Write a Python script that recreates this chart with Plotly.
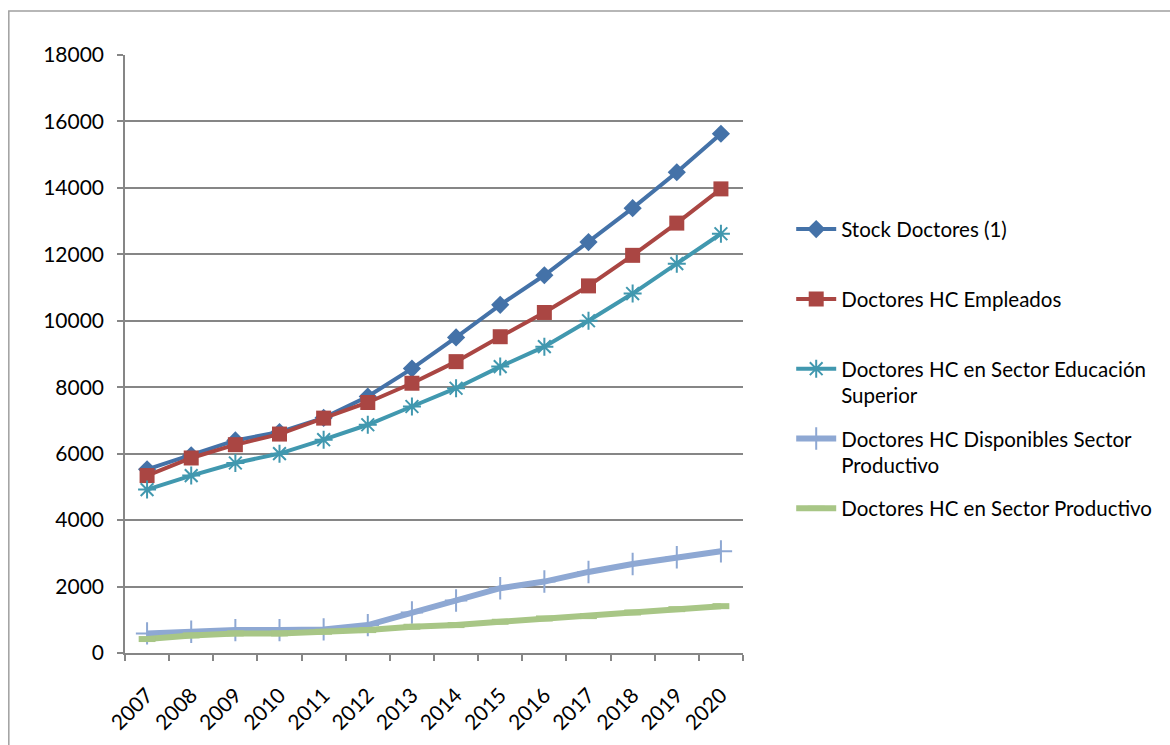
import plotly.graph_objects as go

years = ["2007", "2008", "2009", "2010", "2011", "2012", "2013",
         "2014", "2015", "2016", "2017", "2018", "2019", "2020"]

stock_doctores = [5530, 5950, 6400, 6650, 7080, 7720, 8560,
                  9500, 10480, 11370, 12370, 13390, 14470, 15630]
empleados = [5340, 5870, 6270, 6590, 7070, 7540, 8120,
             8770, 9520, 10250, 11050, 11970, 12940, 13970]
educacion_superior = [4920, 5340, 5720, 6000, 6420, 6870, 7420,
                      7970, 8620, 9220, 10000, 10820, 11720, 12620]
disponibles_productivo = [590, 640, 690, 690, 710, 840, 1220,
                          1580, 1950, 2150, 2440, 2680, 2880, 3060]
sector_productivo = [420, 530, 590, 590, 640, 690, 790,
                     840, 940, 1040, 1110, 1220, 1320, 1410]

names = ["Stock Doctores (1)<br> ",
         "Doctores HC Empleados<br> ",
         "Doctores HC en Sector Educación<br>Superior",
         "Doctores HC Disponibles Sector<br>Productivo",
         "Doctores HC en Sector Productivo<br> "]

y_ticks = [0, 2000, 4000, 6000, 8000, 10000, 12000, 14000, 16000, 18000]

FONT = "Lato"

fig = go.Figure()

series = [
    (stock_doctores, names[0], "#4472A8", 4, dict(symbol="diamond", size=14, color="#4472A8")),
    (empleados, names[1], "#AA4643", 4, dict(symbol="square", size=15, color="#AA4643")),
    (educacion_superior, names[2], "#4198AF", 4,
     dict(symbol="asterisk-open", size=15, color="#4198AF", line=dict(width=2, color="#4198AF"))),
    (disponibles_productivo, names[3], "#8EA8D3", 6,
     dict(symbol="cross-thin-open", size=16, color="#8EA8D3", line=dict(width=2, color="#8EA8D3"))),
    (sector_productivo, names[4], "#A8C686", 6,
     dict(symbol="line-ew-open", size=12, color="#A8C686", line=dict(width=6, color="#A8C686"))),
]

for i, (vals, nm, col, w, mk) in enumerate(series):
    fig.add_trace(go.Scatter(
        x=years, y=vals, name=nm, mode="lines+markers",
        line=dict(color=col, width=w), marker=mk,
        legendgroup=f"g{i}",
    ))

fig.add_shape(type="rect", xref="paper", yref="paper",
              x0=-0.188, y0=-0.3, x1=2.0, y1=1.0736,
              line=dict(color="#A0A0A0", width=1.5), layer="below")

fig.update_layout(
    width=1170, height=745,
    margin=dict(l=125, r=427, t=55, b=92, autoexpand=False),
    paper_bgcolor="white", plot_bgcolor="white",
    font=dict(family=FONT, size=20, color="#000000"),
    showlegend=True,
    legend=dict(x=1.078, y=0.742, xanchor="left", yanchor="top",
                valign="top", tracegroupgap=13.5,
                font=dict(family=FONT, size=20.5, color="#000000"),
                itemwidth=40, bgcolor="rgba(0,0,0,0)"),
    xaxis=dict(
        type="category", tickangle=-45, showgrid=False,
        showline=True, linecolor="#868686", linewidth=1.5,
        ticks="outside", tickcolor="#868686", ticklen=6, tickwidth=1.5,
        tickson="boundaries", range=[-0.5, 13.5], ticklabelstandoff=20,
        tickfont=dict(family=FONT, size=21),
    ),
    yaxis=dict(
        range=[0, 18000], tickvals=y_ticks, ticktext=[str(v) for v in y_ticks],
        showgrid=True, gridcolor="#868686", gridwidth=1.5,
        showline=True, linecolor="#868686", linewidth=1.5,
        ticks="outside", tickcolor="#868686", ticklen=6, tickwidth=1.5,
        zeroline=False, ticklabelstandoff=9, tickfont=dict(family=FONT, size=21),
    ),
)

fig.write_html("out.html")
